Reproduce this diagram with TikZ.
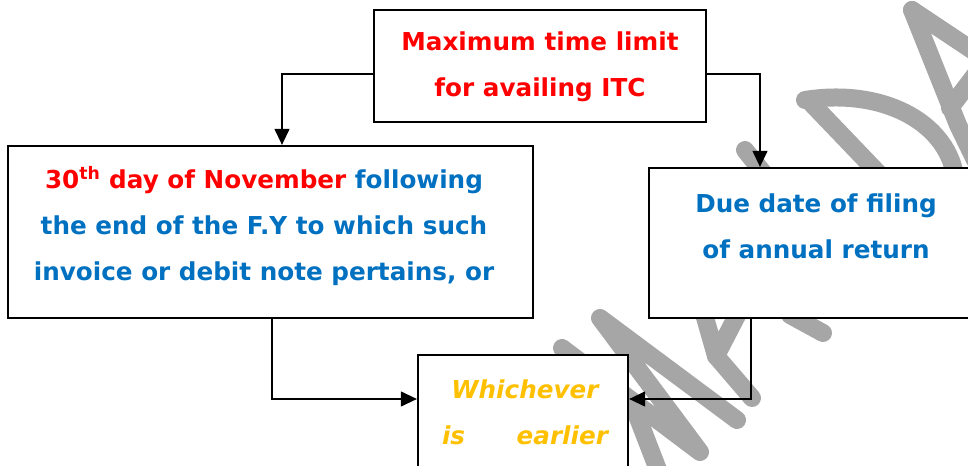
\documentclass[tikz,border=0pt]{standalone}
\usepackage{fontspec}
\setmainfont{DejaVu Sans}
\usetikzlibrary{arrows.meta}
\definecolor{itcred}{RGB}{255,0,0}
\definecolor{itcblue}{RGB}{0,112,192}
\definecolor{itcgold}{RGB}{255,192,0}
\definecolor{wmgray}{RGB}{166,166,166}
\begin{document}
\begin{tikzpicture}[x=0.75pt,y=-0.75pt,
  box/.style={draw=black,line width=1.6pt,fill=white,inner sep=0pt},
  txt/.style={align=center,font=\fontsize{18.5}{34.5}\selectfont\bfseries},
  link/.style={line width=1.6pt,-{Triangle[length=12pt,width=11pt]}},
  wm/.style={draw=wmgray,line width=13.5pt,line cap=round,line join=round}]
\useasboundingbox (0,0) rectangle (968,466);
\clip (0,0) rectangle (968,466);
\fill[white] (0,0) rectangle (968,466);
% watermark strokes
\draw[wm] (562,348) -- (700,452) -- (600,318) -- (737,420);
\draw[wm] (633,405) -- (660,475);
\draw[wm] (700,300) -- (716,356) -- (745,300);
\draw[wm] (716,356) -- (752,398);
\draw[wm] (790,315) -- (823,333);
\draw[wm] (745,150) -- (765,175);
\draw[wm] (812,104) -- (880,175);
\draw[wm] (805,100) .. controls (880,88) and (945,120) .. (955,175);
\draw[wm] (912,10) -- (975,52);
\draw[wm] (912,10) -- (958,125) -- (975,160);
\draw[wm] (950,108) -- (975,75);
% boxes
\node[box,minimum width=249pt,minimum height=84pt] (top) at (540,66) {};
\node[box,minimum width=393.75pt,minimum height=129pt] (left) at (270.5,232) {};
\node[box,minimum width=251.25pt,minimum height=112.5pt] (right) at (816.5,243) {};
\node[box,minimum width=157.5pt,minimum height=97.5pt] (bottom) at (523,420) {};
% texts
\node[txt,text=itcred] (toptxt) at (540,67) {Maximum time limit\\for availing ITC};
\node[txt,text=itcblue] (lefttxt) at (264,226) {\textcolor{itcred}{30\textsuperscript{th} day of November} following\\the end of the F.Y to which such\\invoice or debit note pertains, or};
\node[txt,text=itcblue] (righttxt) at (816,226) {Due date of filing\\of annual return};
\node[txt,text=itcgold,font=\fontsize{18.5}{34.5}\selectfont\bfseries\itshape] (bottxt) at (525,412) {Whichever\\\makebox[124.5pt]{is\hfill earlier}};
% connectors
\coordinate (ya) at (0,74);
\coordinate (yd) at (0,399);
\coordinate (xa) at (282,0);
\coordinate (xb) at (760,0);
\coordinate (xc) at (272,0);
\coordinate (xe) at (751,0);
\draw[link] (top.west |- ya) -| (xa |- left.north);
\draw[link] (top.east |- ya) -| (xb |- right.north);
\draw[link] (xc |- left.south) |- (bottom.west |- yd);
\draw[link] (xe |- right.south) |- (bottom.east |- yd);
\end{tikzpicture}
\end{document}
